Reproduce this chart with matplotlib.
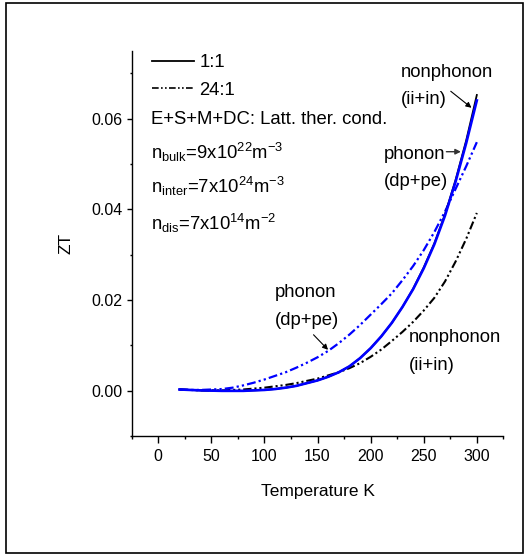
import matplotlib
matplotlib.use("Agg")
import matplotlib.pyplot as plt
from matplotlib.lines import Line2D
from matplotlib.patches import Rectangle

plt.rcParams['font.family'] = ['Liberation Sans', 'DejaVu Sans']
plt.rcParams['mathtext.fontset'] = 'custom'
plt.rcParams['mathtext.rm'] = 'Liberation Sans'
plt.rcParams['mathtext.it'] = 'Liberation Sans:italic'

# temperature grid (K)
temp = [20, 30, 40, 50, 60, 70, 80, 90, 100, 110, 120, 130, 140, 150, 160,
        170, 180, 190, 200, 210, 220, 230, 240, 250, 260, 270, 280, 290, 300]

# 1:1 ratio
zt_11_nonphonon = [0.0003, 0.0002, 0.0001, 0.00005, 0.0, 0.0, 0.0, 0.0001, 0.0002, 0.0004,
                   0.0007, 0.0011, 0.0017, 0.0023, 0.0031, 0.0041, 0.0054, 0.0072, 0.0094,
                   0.0120, 0.0150, 0.0185, 0.0225, 0.0272, 0.0325, 0.0389, 0.0465, 0.0552,
                   0.0652]
zt_11_phonon = [0.0003, 0.0002, 0.0001, 0.00005, 0.0, 0.0, 0.0, 0.0001, 0.0002, 0.0004,
                0.0007, 0.0011, 0.0017, 0.0023, 0.0031, 0.0041, 0.0054, 0.0072, 0.0094,
                0.0120, 0.0150, 0.0185, 0.0224, 0.0270, 0.0323, 0.0386, 0.0461, 0.0546,
                0.0640]
# 24:1 ratio
zt_241_phonon = [0.0003, 0.0002, 0.0002, 0.0003, 0.0004, 0.0007, 0.0012, 0.0018, 0.0025,
                 0.0033, 0.0041, 0.0051, 0.0062, 0.0074, 0.0088, 0.0105, 0.0124, 0.0145,
                 0.0168, 0.0191, 0.0215, 0.0244, 0.0275, 0.0310, 0.0350, 0.0395, 0.0445,
                 0.0495, 0.0548]
zt_241_nonphonon = [0.0003, 0.0002, 0.0001, 0.0001, 0.0001, 0.0002, 0.0003, 0.0005, 0.0007,
                    0.0010, 0.0013, 0.0017, 0.0022, 0.0027, 0.0034, 0.0041, 0.0050, 0.0061,
                    0.0075, 0.0091, 0.0110, 0.0130, 0.0152, 0.0177, 0.0205, 0.0241, 0.0285,
                    0.0335, 0.0392]

legend_labels = ['1:1', '24:1']
info_lines = ['E+S+M+DC: Latt. ther. cond.',
              r'n$_{\mathrm{bulk}}$=9x10$^{\mathrm{22}}$m$^{\mathrm{-3}}$',
              r'n$_{\mathrm{inter}}$=7x10$^{\mathrm{24}}$m$^{\mathrm{-3}}$',
              r'n$_{\mathrm{dis}}$=7x10$^{\mathrm{14}}$m$^{\mathrm{-2}}$']

ddot = (0, (4, 1.4, 1, 1.4, 1, 1.4))
fs = 13.3

fig = plt.figure(figsize=(5.26, 5.55), dpi=100)
ax = fig.add_axes([0.2504, 0.214, 0.7066, 0.695])

ax.plot(temp, zt_241_nonphonon, color='black', lw=1.5, linestyle=ddot)
ax.plot(temp, zt_241_phonon, color='blue', lw=1.6, linestyle=ddot)
ax.plot(temp, zt_11_nonphonon, color='black', lw=1.3)
ax.plot(temp, zt_11_phonon, color='blue', lw=1.9)

ax.set_xlim(-25, 325)
ax.set_ylim(-0.01, 0.075)
ax.set_xticks([0, 50, 100, 150, 200, 250, 300])
ax.set_xticks(range(-25, 326, 50), minor=True)
ax.set_yticks([0.0, 0.02, 0.04, 0.06])
ax.set_yticks([-0.01, 0.01, 0.03, 0.05, 0.07], minor=True)
ax.set_yticklabels(['0.00', '0.02', '0.04', '0.06'])

for s in ['top', 'right']:
    ax.spines[s].set_visible(False)
for s in ['left', 'bottom']:
    ax.spines[s].set_linewidth(1.0)

ax.tick_params(axis='x', which='major', direction='out', length=5, width=1, pad=4.5, labelsize=11.5)
ax.tick_params(axis='x', which='minor', direction='out', length=2.5, width=1)
ax.tick_params(axis='y', which='major', direction='out', length=3.6, width=1, pad=3, labelsize=11.5)
ax.tick_params(axis='y', which='minor', direction='out', length=1.8, width=1)

ax.set_xlabel('Temperature K', fontsize=12.5, labelpad=14)
ax.set_ylabel('ZT', fontsize=12.5, labelpad=13)

handles = [Line2D([], [], color='black', lw=1.3),
           Line2D([], [], color='black', lw=1.2, linestyle=ddot)]
ax.legend(handles, legend_labels, loc='upper left', bbox_to_anchor=(0.0535, 0.99),
          frameon=False, fontsize=fs, handlelength=2.3, handletextpad=0.3,
          labelspacing=0.55, borderpad=0, borderaxespad=0)

info_y = [0.0588, 0.0512, 0.0435, 0.0354]
for txt, y in zip(info_lines, info_y):
    ax.text(-6.7, y, txt, fontsize=fs, ha='left', va='baseline')

# annotations
ax.text(228.7, 0.0692, 'nonphonon', fontsize=fs, ha='left', va='baseline')
ax.text(228.7, 0.0632, '(ii+in)', fontsize=fs, ha='left', va='baseline')
ax.annotate('', xy=(297, 0.0620), xytext=(273.4, 0.0664),
            arrowprops=dict(arrowstyle='-|>', color='black', lw=0.8, mutation_scale=8))

ax.text(212, 0.0512, 'phonon', fontsize=fs, ha='left', va='baseline')
ax.text(212, 0.0451, '(dp+pe)', fontsize=fs, ha='left', va='baseline')
ax.annotate('', xy=(287.6, 0.0527), xytext=(268.7, 0.0527),
            arrowprops=dict(arrowstyle='-|>', color='#333333', lw=1.0, mutation_scale=8))

ax.text(109.8, 0.0207, 'phonon', fontsize=fs, ha='left', va='baseline')
ax.text(109.8, 0.0145, '(dp+pe)', fontsize=fs, ha='left', va='baseline')
ax.annotate('', xy=(161.7, 0.0086), xytext=(144.4, 0.0128),
            arrowprops=dict(arrowstyle='-|>', color='black', lw=0.8, mutation_scale=8))

ax.text(236.3, 0.0108, 'nonphonon', fontsize=fs, ha='left', va='baseline')
ax.text(236.3, 0.0047, '(ii+in)', fontsize=fs, ha='left', va='baseline')

# outer frame round the figure
fig.patches.append(Rectangle((0.0114, 0.0036), 0.9829, 0.991, transform=fig.transFigure,
                             fill=False, edgecolor='black', lw=1.2))

fig.savefig('out.png', dpi=100)
